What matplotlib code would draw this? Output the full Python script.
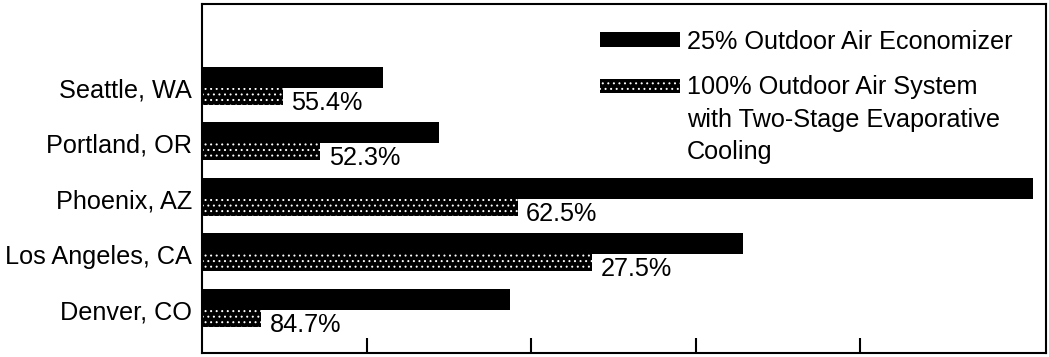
import matplotlib
matplotlib.use('Agg')
import matplotlib.pyplot as plt
from matplotlib import font_manager
from matplotlib.patches import Rectangle

cities = ['Seattle, WA', 'Portland, OR', 'Phoenix, AZ', 'Los Angeles, CA', 'Denver, CO']
economizer = [1.10, 1.44, 5.05, 3.29, 1.87]      # 25% outdoor air economizer
evaporative = [0.49, 0.72, 1.92, 2.37, 0.36]     # 100% OA with two-stage evap cooling
savings = ['55.4%', '52.3%', '62.5%', '27.5%', '84.7%']
legend_labels = ['25% Outdoor Air Economizer',
                 '100% Outdoor Air System\nwith Two-Stage Evaporative\nCooling']

names = {f.name for f in font_manager.fontManager.ttflist}
if 'Liberation Sans Narrow' in names:
    fam, fs = 'Liberation Sans Narrow', 21
else:
    fam, fs = 'Liberation Sans', 18.2
plt.rcParams['font.family'] = [fam, 'DejaVu Sans']
plt.rcParams['hatch.linewidth'] = 0.7

fig = plt.figure(figsize=(10.49, 3.57), dpi=100)
ax = fig.add_axes([0.1926, 0.0112, 0.8045, 0.9776])

y = list(range(len(cities)))
h1, h2 = 0.38, 0.30
ax.barh([v - h1 / 2 for v in y], economizer, height=h1, color='black', linewidth=0)
ax.barh([v + h2 / 2 for v in y], evaporative, height=h2, facecolor='black',
        edgecolor='white', hatch='...', linewidth=0)

for yi, val, s in zip(y, evaporative, savings):
    ax.annotate(s, (val, yi + 0.39), xytext=(6, 0), textcoords='offset points',
                va='baseline', ha='left', fontsize=fs)

ax.set_xlim(0, 5.13)
ax.set_ylim(4.775, -1.513)
ax.set_yticks(y)
ax.set_yticklabels(cities, fontsize=fs)
ax.set_xticks([1, 2, 3, 4])
ax.set_xticklabels([])
ax.tick_params(axis='y', length=0, pad=7)
ax.tick_params(axis='x', direction='in', length=11, width=1.5)
for sp in ax.spines.values():
    sp.set_linewidth(1.5)

# legend drawn by hand so the swatch sits on the first text line
tr = ax.transAxes
def ax_xy(px, py):
    return ((px - 202) / 844, (353 - py) / 349)

x0, y0 = ax_xy(600, 47)
x1, y1 = ax_xy(680, 32)
ax.add_patch(Rectangle((x0, y0), x1 - x0, y1 - y0, transform=tr, color='black', lw=0))
x0, y0 = ax_xy(600, 93)
x1, y1 = ax_xy(680, 79)
ax.add_patch(Rectangle((x0, y0), x1 - x0, y1 - y0, transform=tr, facecolor='black',
                       edgecolor='white', hatch='...', lw=0))
tx, ty = ax_xy(687, 49)
ax.text(tx, ty, legend_labels[0], transform=tr, fontsize=fs, va='baseline', ha='left')
tx, ty = ax_xy(687, 75.5)
ax.text(tx, ty, legend_labels[1], transform=tr, fontsize=fs, va='top', ha='left',
        linespacing=1.43)

fig.savefig('out.png', dpi=100)
